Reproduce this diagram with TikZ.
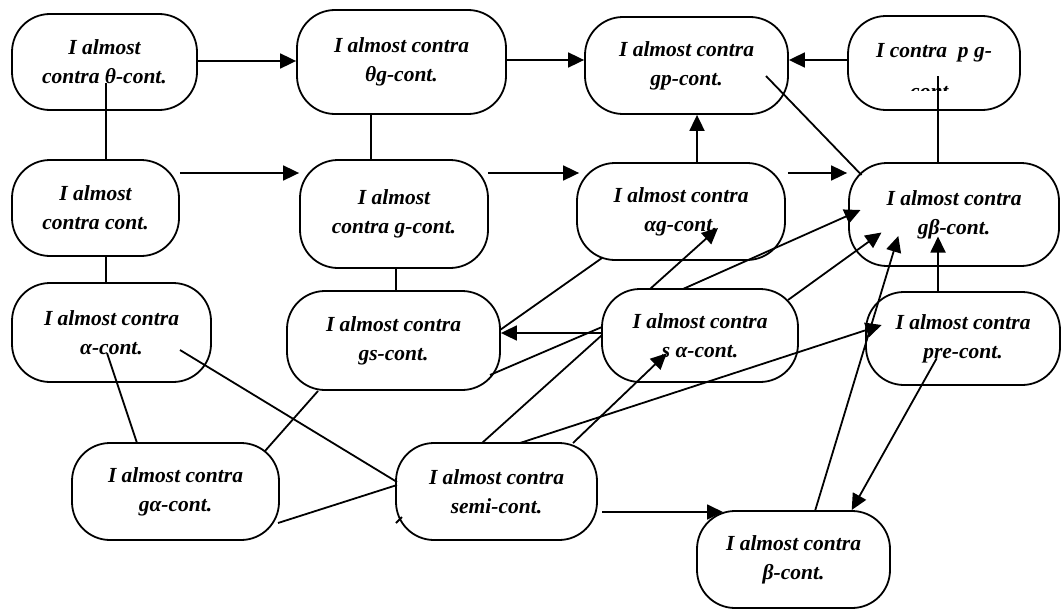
\documentclass[tikz,border=0pt]{standalone}
\usepackage{fontspec}
\setmainfont{Liberation Serif}
\usetikzlibrary{arrows.meta,calc}
\tikzset{
  txt/.style={font=\fontsize{21.5}{29}\selectfont\bfseries\itshape},
  box/.style={txt, draw, line width=1.8pt, rounded corners=38pt, fill=white,
    align=center, inner sep=0pt},
  lbl/.style={txt, inner sep=0pt},
  conn/.style={line width=1.8pt},
  arr/.style={conn, -{Triangle[length=16pt,width=15pt]}},
}
\begin{document}
\begin{tikzpicture}[x=1pt,y=-1pt]
\useasboundingbox (0,0) rectangle (1062,610);
% row 1
\node[box, minimum width=185pt, minimum height=96pt] (A1) at (104.5,62) {I almost\\contra θ-cont.};
\node[box, minimum width=209pt, minimum height=104pt] (A2) at (401.5,62) {I almost contra\\θg-cont.};
\node[box, minimum width=203pt, minimum height=97pt] (A3) at (686.5,65.5) {I almost contra\\gp-cont.};
\node[box, minimum width=172pt, minimum height=94pt] (A4) at (934,63) {};
\begin{scope}
  \clip (848,16) rectangle (1020,90);
  \node[lbl, anchor=base] (A4t) at (934,58) {I contra\ \ p g-};
  \node[lbl, anchor=base] (A4u) at (932,98) {cont.};
\end{scope}
% row 2
\node[box, minimum width=167pt, minimum height=96pt] (B1) at (95.5,208) {I almost\\contra cont.};
\node[box, minimum width=188pt, minimum height=108pt] (B2) at (394,214) {I almost\\contra g-cont.};
\node[box, minimum width=208pt, minimum height=97pt] (B3) at (681,211.5) {I almost contra\\αg-cont.};
\node[box, minimum width=210pt, minimum height=103pt] (B4) at (954,214.5) {I almost contra\\gβ-cont.};
% row 3
\node[box, minimum width=199pt, minimum height=99pt] (C1) at (111.5,332.5) {I almost contra\\α-cont.};
\node[box, minimum width=213pt, minimum height=99pt] (C2) at (393.5,340.5) {I almost contra\\gs-cont.};
\node[box, minimum width=196pt, minimum height=93pt] (C3) at (700,335.5) {I almost contra\\s α-cont.};
\node[box, minimum width=194pt, minimum height=93pt] (C4) at (963,338.5) {I almost contra\\pre-cont.};
% row 4
\node[box, minimum width=207pt, minimum height=97pt] (D1) at (175.5,491.5) {I almost contra\\gα-cont.};
\node[box, minimum width=201pt, minimum height=97pt] (D2) at (496.5,491.5) {I almost contra\\semi-cont.};
\node[box, minimum width=193pt, minimum height=97pt] (D3) at (793.5,559.5) {I almost contra\\β-cont.};

% helper coordinates
\coordinate (p1) at ($(A1.center)+(1.5,21)$);
\coordinate (p2) at ($(A2.south)+(-30.5,0)$);
\coordinate (p3) at ($(B3.north)+(16,0)$);
\coordinate (p4) at ($(A4.center)+(4,13)$);

% row 1 connectors
\draw[arr] (A1.east |- 0,61) -- (A2.west |- 0,61);
\draw[arr] (A2.east |- 0,60) -- (A3.west |- 0,60);
\draw[arr] (A4.west |- 0,60) -- (A3.east |- 0,60);
\draw[conn] (p1) -- (p1 |- B1.north);
\draw[conn] (p2) -- (p2 |- B2.north);
\draw[arr] (p3) -- (p3 |- A3.south);
\draw[conn] ($(A3.center)+(79.5,10.5)$) -- ($(B4.center)+(-92.5,-39.5)$);
\draw[conn] (p4) -- (p4 |- B4.north);
% row 2 connectors
\draw[arr] (B1.east |- 0,173) -- (B2.west |- 0,173);
\draw[arr] ($(B2.east |- 0,173)+(-1,0)$) -- ($(B3.west |- 0,173)+(3,0)$);
\draw[arr] ($(B3.east |- 0,173)+(2,0)$) -- ($(B4.west |- 0,173)+(-1,0)$);
\draw[conn] (B1.south -| 106,0) -- (C1.north -| 106,0);
\draw[conn] (B2.south -| 396,0) -- (C2.north -| 396,0);
\draw[conn] ($(B3.center)+(-79,46.5)$) -- ($(C2.center)+(106.5,-10.5)$);
% row 3 connectors
\draw[arr] (C3.west |- 0,333) -- (C2.east |- 0,333);
\draw[arr] ($(C3.center)+(-50,-46.5)$) -- ($(B3.center)+(37,16.5)$);
\draw[arr] ($(C3.center)+(-17,-46.5)$) -- ($(B4.center)+(-93.5,-4.5)$);
\draw[arr] ($(C3.center)+(88,-35.5)$) -- ($(B4.center)+(-72.5,18)$);
\draw[conn] ($(C2.center)+(96.5,34.5)$) -- ($(C3.center)+(-98,-8.5)$);
\draw[arr] (C4.north -| 938,0) -- ($(B4.center)+(-16,22)$);
% row 4 connectors
\draw[conn] ($(D2.center)+(-14.5,-48.5)$) -- ($(C3.center)+(-98,-0.5)$);
\draw[arr] ($(D2.center)+(76.5,-48.5)$) -- ($(C3.center)+(-33.3,17.8)$);
\draw[arr] ($(D2.center)+(23.5,-48.5)$) -- ($(C4.center)+(-81.3,-13.5)$);
\draw[arr] ($(D3.center)+(21.5,-48.5)$) -- ($(B4.center)+(-55.7,21.5)$);
\draw[arr] ($(C4.center)+(-26.3,19.8)$) -- ($(D3.center)+(58.2,-49.5)$);
\draw[conn] ($(D1.center)+(89.5,-40.5)$) -- ($(C2.center)+(-75.5,50.5)$);
\draw[conn] ($(C1.center)+(-4.5,20.5)$) -- ($(D1.center)+(-38.5,-48.5)$);
\draw[conn] ($(C1.center)+(68.5,17.5)$) -- ($(D2.center)+(-99.5,-9.5)$);
\draw[conn] ($(D1.center)+(102.5,31.5)$) -- ($(D2.center)+(-99.5,-6.5)$);
\draw[arr] ($(D2.center)+(105.5,20.5)$) -- ($(D3.center)+(-70.5,-47.5)$);
\draw[conn] ($(D2.center)+(-100.5,31.5)$) -- ($(D2.center)+(-94.5,25.5)$);
\end{tikzpicture}
\end{document}
